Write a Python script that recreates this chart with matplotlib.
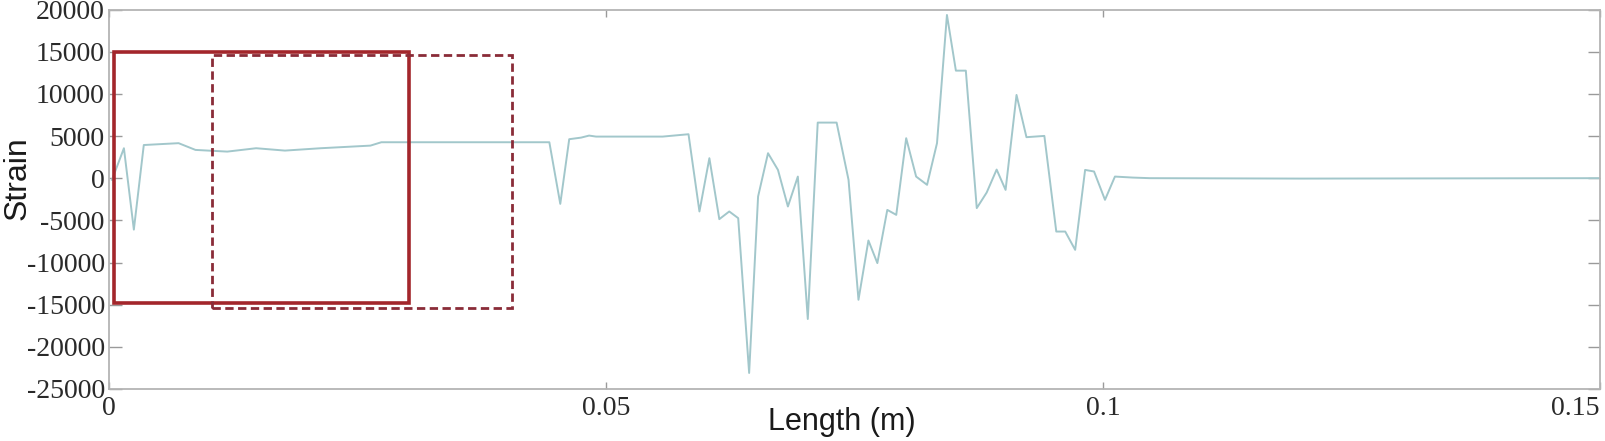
#!/usr/bin/env python3
"""
plot.py - strain along the length, with two marked windows (solid / dashed)
"""

import matplotlib
matplotlib.use("Agg")
import matplotlib.pyplot as plt
from matplotlib.patches import Rectangle


# -------------------- data --------------------

length_m = [
    0.0003, 0.0015, 0.0025, 0.0035, 0.0070, 0.0087, 0.0119, 0.0148, 0.0177, 0.0213, 0.0263, 0.0274, 0.0357, 0.0443,
    0.0454, 0.0463, 0.0475, 0.0483, 0.0490, 0.0557, 0.0583,
    0.0594, 0.0604, 0.0614, 0.0624, 0.0633, 0.0644, 0.0653, 0.0663, 0.0673, 0.0683, 0.0693, 0.0703, 0.0713, 0.0732,
    0.0744, 0.0754, 0.0764, 0.0773, 0.0783, 0.0792, 0.0802, 0.0812, 0.0823, 0.0833, 0.0843, 0.0852, 0.0862,
    0.0873, 0.0883, 0.0893, 0.0902, 0.0913, 0.0923, 0.0941, 0.0953, 0.0962, 0.0972, 0.0982, 0.0991, 0.1002,
    0.1012, 0.1030, 0.1047, 0.1200, 0.1500,
]

strain = [
    -200, 3550, -6100, 3930, 4150, 3350, 3150, 3550, 3270, 3550, 3860, 4260, 4260, 4260,
    -3050, 4620, 4810, 5050, 4930, 4930, 5210,
    -3950, 2370, -4860, -3950, -4740, -23100, -2180, 2960, 980, -3360, 190, -16700, 6590, 6590,
    -200, -14420, -7390, -10070, -3760, -4350, 4740, 190, -790, 4150, 19350, 12750, 12750,
    -3550, -1700, 1020, -1390, 9870, 4860, 5010, -6330, -6330, -8500, 980, 790, -2570,
    190, 70, 0, -50, 0,
]

# marked windows: (x0, x1, y0, y1)
window_solid = [0.0005, 0.0302, -14800, 15000]
window_dashed = [0.0104, 0.0405, -15400, 14600]

x_ticks = [0, 0.05, 0.1, 0.15]
x_ticklabels = ["0", "0.05", "0.1", "0.15"]
y_ticks = [20000, 15000, 10000, 5000, 0, -5000, -10000, -15000, -20000, -25000]


# -------------------- plotting --------------------

fig = plt.figure(figsize=(16.05, 4.41), dpi=100)
ax = fig.add_axes([109 / 1605, 1 - 389 / 441, (1600 - 109) / 1605, (389 - 9.5) / 441])

ax.plot(length_m, strain, color="#a2c7cb", linewidth=1.4, zorder=2)

x0, x1, y0, y1 = window_solid
ax.add_patch(Rectangle((x0, y0), x1 - x0, y1 - y0, fill=False,
                       edgecolor="#a3262b", linewidth=2.6, zorder=3))
x0, x1, y0, y1 = window_dashed
ax.add_patch(Rectangle((x0, y0), x1 - x0, y1 - y0, fill=False,
                       edgecolor="#8a2c38", linewidth=2.0, linestyle=(0, (3, 1.6)), zorder=3))

ax.set_xlim(0, 0.15)
ax.set_ylim(-25000, 20000)
ax.set_xticks(x_ticks)
ax.set_xticklabels(x_ticklabels)
ax.set_yticks(y_ticks)
ax.set_yticklabels([str(v) for v in y_ticks])

for sp in ax.spines.values():
    sp.set_color("#b4b4b4")
    sp.set_linewidth(1.3)

ax.tick_params(axis="both", direction="in", colors="#9a9a9a", width=1.0,
               labelcolor="#2a2a2a", labelsize=20)
ax.tick_params(axis="y", length=9, left=True, right=True, pad=3)
ax.tick_params(axis="x", length=5, top=True, bottom=True, pad=5)
for lab in ax.get_xticklabels() + ax.get_yticklabels():
    lab.set_family(["Liberation Serif", "DejaVu Serif"])
# last x label sits flush with the right edge, as in the source figure
ax.get_xticklabels()[-1].set_horizontalalignment("right")

ax.set_xlabel("Length (m)", fontsize=22, family=["Liberation Sans", "DejaVu Sans"],
              color="#1a1a1a")
ax.xaxis.set_label_coords(0.4916, -0.048)
ax.set_ylabel("Strain", fontsize=23, family=["Liberation Sans", "DejaVu Sans"],
              color="#1a1a1a")
ax.yaxis.set_label_coords(-0.0515, 0.556)

fig.savefig("out.png", dpi=100)
